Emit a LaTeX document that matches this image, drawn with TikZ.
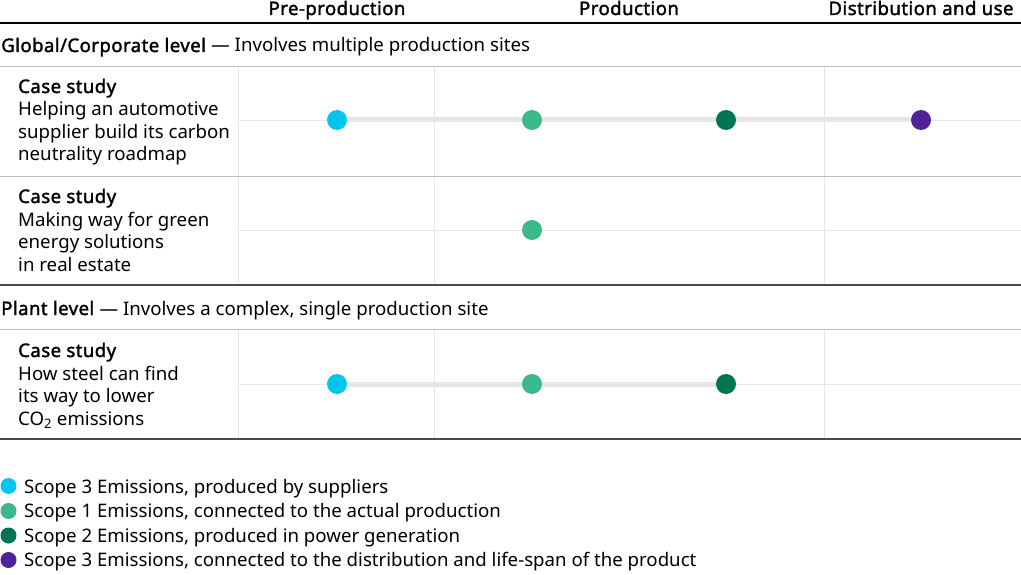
\documentclass[tikz,border=0pt]{standalone}
\usepackage{fontspec}
\setmainfont{Noto Sans}[AutoFakeBold=1.7,BoldFeatures={LetterSpace=2.2}]
\definecolor{cyanS}{HTML}{00C5EE}
\definecolor{greenS}{HTML}{3BB98A}
\definecolor{dgreenS}{HTML}{007552}
\definecolor{purpleS}{HTML}{51219A}
\definecolor{gridL}{HTML}{E6E6E6}
\definecolor{sepL}{HTML}{BDBDBD}
\definecolor{darkL}{HTML}{4A4A4A}
\definecolor{linkL}{HTML}{E5E6E6}
\begin{document}
\begin{tikzpicture}[x=1pt,y=-1pt,
  txt/.style={font=\fontsize{18.65}{22}\selectfont, inner sep=0pt, anchor=base west},
  hdr/.style={font=\fontsize{18.65}{22}\selectfont\bfseries, inner sep=0pt, anchor=base},
  dot/.style={circle, inner sep=0pt, minimum size=20pt, fill=#1},
  ldot/.style={circle, inner sep=0pt, minimum size=16pt, fill=#1},
  link/.style={linkL, line width=5pt},
  grid/.style={gridL, line width=0.8pt},
  sep/.style={sepL, line width=1pt},
  dark/.style={darkL, line width=1.5pt}]
\useasboundingbox (0,0) rectangle (1021,575);
% headers
\node[hdr] (h1) at (337,15) {Pre-production};
\node[hdr] (h2) at (629,15) {Production};
\node[hdr] (h3) at (921,15) {Distribution and use};
\draw[black, line width=1.2pt] (0,23) -- (1021,23);
% group 1
\node[txt] (g1) at (1,52) {\textbf{Global/Corporate level} — Involves multiple production sites};
\draw[sep] (0,66.5) -- (1021,66.5);
% vertical grid
\foreach \x in {238,434,824} {
  \draw[grid] (\x,67) -- (\x,285);
  \draw[grid] (\x,330) -- (\x,439);
}
\draw[grid] (238,120) -- (1021,120);
\draw[grid] (238,230) -- (1021,230);
\draw[grid] (238,384) -- (1021,384);
\draw[sep] (0,176.5) -- (1021,176.5);
\draw[dark] (0,285) -- (1021,285);
\node[txt] (g2) at (1,315) {\textbf{Plant level} — Involves a complex, single production site};
\draw[sep] (0,329.5) -- (1021,329.5);
\draw[dark] (0,439) -- (1021,439);
% row 1 text
\node[txt] (c1a) at (18,93) {\textbf{Case study}};
\node[txt] (c1b) at (18,116) {Helping an automotive};
\node[txt] (c1c) at (18,138.5) {supplier build its carbon};
\node[txt] (c1d) at (18,161) {neutrality roadmap};
% row 2 text
\node[txt] (c2a) at (18,203) {\textbf{Case study}};
\node[txt] (c2b) at (18,226) {Making way for green};
\node[txt] (c2c) at (18,248.5) {energy solutions};
\node[txt] (c2d) at (18,271) {in real estate};
% row 3 text
\node[txt] (c3a) at (18,357) {\textbf{Case study}};
\node[txt] (c3b) at (18,380) {How steel can find};
\node[txt] (c3c) at (18,402.5) {its way to lower};
\node[txt] (c3d) at (18,425) {CO\textsubscript{2} emissions};
% row 1 dots
\node[dot=cyanS] (r1a) at (337,120) {};
\node[dot=greenS] (r1b) at (532,120) {};
\node[dot=dgreenS] (r1c) at (726,120) {};
\node[dot=purpleS] (r1d) at (921,120) {};
\draw[link] (r1a) -- (r1b);
\draw[link] (r1b) -- (r1c);
\draw[link] (r1c) -- (r1d);
% row 2 dots
\node[dot=greenS] (r2b) at (532,230) {};
% row 3 dots
\node[dot=cyanS] (r3a) at (337,384) {};
\node[dot=greenS] (r3b) at (532,384) {};
\node[dot=dgreenS] (r3c) at (726,384) {};
\draw[link] (r3a) -- (r3b);
\draw[link] (r3b) -- (r3c);
% legend
\node[ldot=cyanS] (l1) at (8.5,486) {};
\node[ldot=greenS] (l2) at (8.5,511) {};
\node[ldot=dgreenS] (l3) at (8.5,535.5) {};
\node[ldot=purpleS] (l4) at (8.5,560) {};
\node[txt] (t1) at (24,493) {Scope 3 Emissions, produced by suppliers};
\node[txt] (t2) at (24,517.5) {Scope 1 Emissions, connected to the actual production};
\node[txt] (t3) at (24,542) {Scope 2 Emissions, produced in power generation};
\node[txt] (t4) at (24,566.5) {Scope 3 Emissions, connected to the distribution and life-span of the product};
\end{tikzpicture}
\end{document}
